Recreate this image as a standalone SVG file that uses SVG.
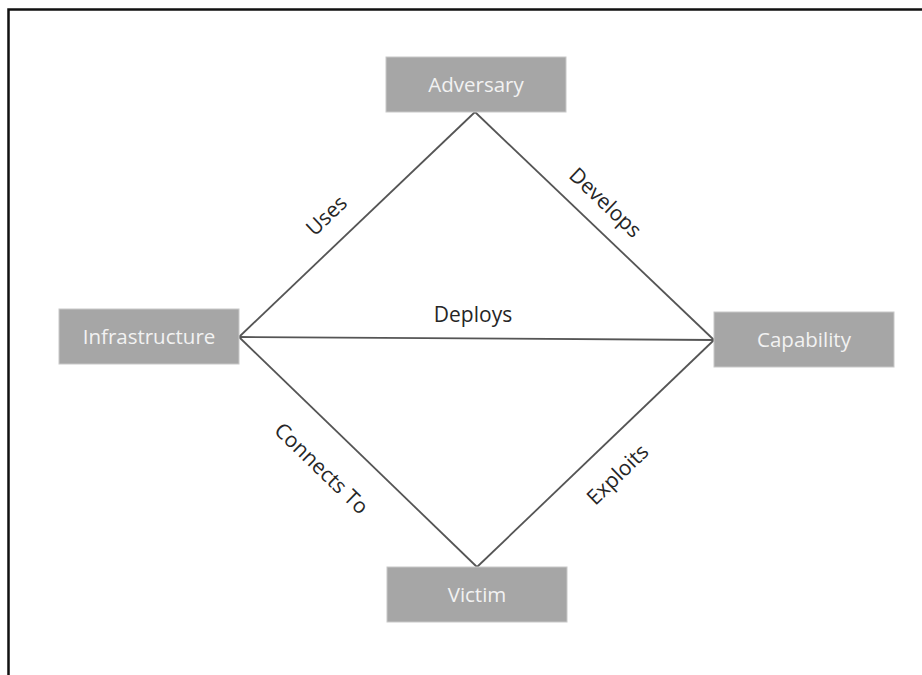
<svg xmlns="http://www.w3.org/2000/svg" width="922" height="675" viewBox="0 0 922 675">
<style>
.box{fill:#a6a6a6;stroke:#c8c8c8;stroke-width:1}
.bt{font-family:"Open Sans","Noto Sans",sans-serif;font-size:20.5px;fill:#f2f2f2;text-anchor:middle;dominant-baseline:central}
.lbl{font-family:"Open Sans","Noto Sans",sans-serif;font-size:21px;fill:#262626;text-anchor:middle;dominant-baseline:central}
.edge{stroke:#555555;stroke-width:1.8;fill:none}
</style>
<rect x="0" y="0" width="922" height="675" fill="#ffffff"/>
<path d="M8.5 675 V9.5 H922" fill="none" stroke="#111111" stroke-width="2.5"/>
<g id="connectors">
<line class="edge" x1="475" y1="112" x2="239" y2="337"/>
<line class="edge" x1="475" y1="112" x2="714" y2="340"/>
<line class="edge" x1="239" y1="337" x2="714" y2="340"/>
<line class="edge" x1="239" y1="337" x2="477" y2="567"/>
<line class="edge" x1="477" y1="567" x2="714" y2="340"/>
<text class="lbl" transform="translate(326,215) rotate(-43.6)">Uses</text>
<text class="lbl" transform="translate(606,202) rotate(43.6)">Develops</text>
<text class="lbl" transform="translate(473,314)">Deploys</text>
<text class="lbl" transform="translate(322,468) rotate(44)">Connects To</text>
<text class="lbl" transform="translate(617,474) rotate(-44)">Exploits</text>
</g>
<g id="adversary"><rect class="box" x="386" y="57" width="180" height="55"/><text class="bt" x="476" y="84">Adversary</text></g>
<g id="infrastructure"><rect class="box" x="59" y="309" width="180" height="55"/><text class="bt" x="149" y="336">Infrastructure</text></g>
<g id="capability"><rect class="box" x="714" y="312" width="180" height="55"/><text class="bt" x="804" y="339">Capability</text></g>
<g id="victim"><rect class="box" x="387" y="567" width="180" height="55"/><text class="bt" x="477" y="594">Victim</text></g>
</svg>
